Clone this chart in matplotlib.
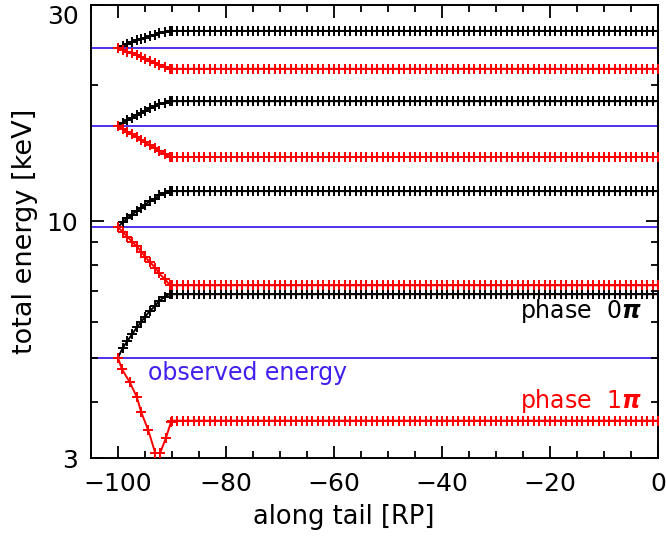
import numpy as np
import matplotlib.pyplot as plt
from matplotlib.ticker import FixedLocator, NullFormatter, MultipleLocator

# observed energies (blue lines), keV
observed = [24.1, 16.2, 9.7, 5.0]

# phase 0 pi (black) transition
black_x = [-100, -99.1, -98.3, -97.4, -96.5, -95.7, -95.0, -94.1, -93.1, -92.4, -91.3, -90.4]
black_1 = [24.1, 24.40, 24.59, 24.82, 25.05, 25.25, 25.42, 25.64, 25.82, 26.01, 26.17, 26.3]
black_2 = [16.2, 16.50, 16.69, 16.92, 17.15, 17.35, 17.52, 17.74, 17.92, 18.11, 18.27, 18.4]
black_3 = [9.7, 9.96, 10.14, 10.34, 10.54, 10.72, 10.87, 11.06, 11.22, 11.40, 11.54, 11.65]
black_4 = [5.0, 5.26, 5.43, 5.63, 5.83, 6.00, 6.15, 6.34, 6.50, 6.67, 6.81, 6.92]
black_plateau = [26.3, 18.4, 11.65, 6.9]

# phase 1 pi (red) transition
red_x = black_x
red_1 = [24.1, 23.88, 23.66, 23.45, 23.23, 23.01, 22.79, 22.57, 22.35, 22.14, 21.92, 21.7]
red_2 = [16.2, 15.99, 15.77, 15.56, 15.35, 15.14, 14.92, 14.71, 14.50, 14.29, 14.07, 13.86]
red_3 = [9.7, 9.47, 9.25, 9.02, 8.80, 8.57, 8.35, 8.12, 7.90, 7.67, 7.45, 7.22]
red_x4 = [-100, -99.3, -97.8, -96.5, -95.7, -94.4, -93.1, -92.2, -91.1, -90.2]
red_4 = [5.0, 4.72, 4.41, 4.09, 3.79, 3.46, 3.08, 3.08, 3.33, 3.60]
red_plateau = [21.7, 13.86, 7.22, 3.63]

# flat part along the tail
tail_x = np.arange(-90, 1, 1)

blue = '#4020ee'

fig = plt.figure(figsize=(6.66, 5.39), dpi=100)
ax = fig.add_axes([0.1366, 0.150, 0.8514, 0.8407])

for e in observed:
    ax.axhline(e, color=blue, lw=1.3, zorder=1)

mk = dict(marker='+', markersize=7, mew=1.4, lw=1.4)

for xs, ys, lev in zip([black_x] * 4, [black_1, black_2, black_3, black_4], black_plateau):
    xx = list(xs) + list(tail_x)
    yy = list(ys) + [lev] * len(tail_x)
    ax.plot(xx, yy, color='black', zorder=2, **mk)

for xs, ys, lev in zip([red_x, red_x, red_x, red_x4], [red_1, red_2, red_3, red_4], red_plateau):
    xx = list(xs) + list(tail_x)
    yy = list(ys) + [lev] * len(tail_x)
    ax.plot(xx, yy, color='red', zorder=3, **mk)

ax.set_yscale('log')
ax.set_xlim(-105, 0)
ax.set_ylim(3, 30)

ax.yaxis.set_major_locator(FixedLocator([3, 10, 30]))
ax.yaxis.set_minor_locator(FixedLocator([4, 5, 6, 7, 8, 9, 20]))
ax.yaxis.set_minor_formatter(NullFormatter())
ax.set_yticklabels(['3', '10', '30'])
ax.xaxis.set_major_locator(MultipleLocator(20))
ax.xaxis.set_minor_locator(MultipleLocator(5))

ax.tick_params(which='both', direction='in', top=True, right=True, labelsize=18, width=1.3)
ax.tick_params(which='major', length=9)
ax.tick_params(axis='x', which='major', pad=10)
ax.tick_params(axis='y', which='major', pad=9)
ax.tick_params(which='minor', length=5)
for s in ax.spines.values():
    s.set_linewidth(1.4)

# top label sits below its tick, like the original
ax.get_yticklabels()[-1].set_va('top')
ax.get_yticklabels()[-1].set_y(30)

ax.set_xlabel('along tail [RP]', fontsize=18.5)
ax.xaxis.set_label_coords(0.445, -0.102)
ax.set_ylabel('total energy [keV]', fontsize=19.5, labelpad=6)

ax.text(-94.5, 4.62, 'observed energy', color=blue, fontsize=17, va='center', ha='left')
ax.text(-3, 6.35, r'phase  0$\boldsymbol{\pi}$', color='black', fontsize=17, va='center', ha='right')
ax.text(-3, 4.02, r'phase  1$\boldsymbol{\pi}$', color='red', fontsize=17, va='center', ha='right')

fig.savefig('out.png', dpi=100)
